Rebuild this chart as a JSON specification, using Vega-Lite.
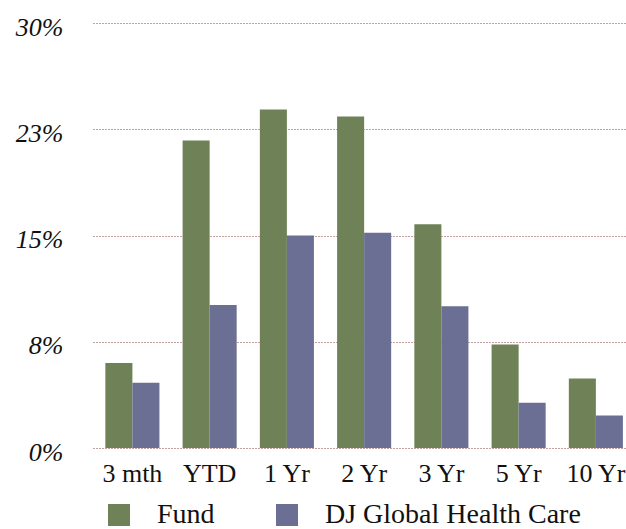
{
  "$schema": "https://vega.github.io/schema/vega-lite/v6.json",
  "width": 533,
  "height": 425,
  "autosize": "none",
  "padding": {"left": 93, "top": 23, "right": 0, "bottom": 81},
  "background": "white",
  "data": {
    "values": [
      {"period": "3 mth", "series": "Fund", "value": 6.0},
      {"period": "3 mth", "series": "DJ Global Health Care", "value": 4.6},
      {"period": "YTD", "series": "Fund", "value": 21.7},
      {"period": "YTD", "series": "DJ Global Health Care", "value": 10.1},
      {"period": "1 Yr", "series": "Fund", "value": 23.9},
      {"period": "1 Yr", "series": "DJ Global Health Care", "value": 15.0},
      {"period": "2 Yr", "series": "Fund", "value": 23.4},
      {"period": "2 Yr", "series": "DJ Global Health Care", "value": 15.2},
      {"period": "3 Yr", "series": "Fund", "value": 15.8},
      {"period": "3 Yr", "series": "DJ Global Health Care", "value": 10.0},
      {"period": "5 Yr", "series": "Fund", "value": 7.3},
      {"period": "5 Yr", "series": "DJ Global Health Care", "value": 3.2},
      {"period": "10 Yr", "series": "Fund", "value": 4.9},
      {"period": "10 Yr", "series": "DJ Global Health Care", "value": 2.3}
    ]
  },
  "mark": {"type": "bar"},
  "encoding": {
    "x": {
      "field": "period",
      "type": "nominal",
      "sort": ["3 mth", "YTD", "1 Yr", "2 Yr", "3 Yr", "5 Yr", "10 Yr"],
      "scale": {"paddingInner": 0.3, "paddingOuter": 0.1, "align": 0.8},
      "axis": {
        "title": null,
        "labelAngle": 0,
        "domain": false,
        "ticks": false,
        "labelFont": "Liberation Serif",
        "labelFontSize": 26,
        "labelColor": "#111111",
        "labelPadding": 12
      }
    },
    "xOffset": {
      "field": "series",
      "type": "nominal",
      "sort": ["Fund", "DJ Global Health Care"],
      "scale": {"paddingInner": 0, "paddingOuter": 0}
    },
    "y": {
      "field": "value",
      "type": "quantitative",
      "scale": {"domain": [0, 30], "nice": false},
      "axis": {
        "title": null,
        "values": [0, 7.5, 15, 22.5, 30],
        "labelExpr": "round(datum.value) + '%'",
        "domain": false,
        "ticks": false,
        "grid": true,
        "gridDash": [1, 2],
        "gridColor": "#7a3030",
        "gridOpacity": 0.9,
        "gridWidth": 1,
        "labelFont": "Liberation Serif",
        "labelFontStyle": "italic",
        "labelFontSize": 26,
        "labelColor": "#111111",
        "labelPadding": 30,
        "labelOffset": 4
      }
    },
    "color": {
      "field": "series",
      "type": "nominal",
      "sort": ["Fund", "DJ Global Health Care"],
      "scale": {"domain": ["Fund", "DJ Global Health Care"], "range": ["#6e8157", "#6b6f94"]},
      "legend": {
        "title": null,
        "orient": "none",
        "legendX": 12,
        "legendY": 478,
        "direction": "horizontal",
        "symbolType": "square",
        "symbolSize": 484,
        "symbolStrokeWidth": 0,
        "labelFont": "Liberation Serif",
        "labelFontSize": 28,
        "labelColor": "#111111",
        "labelLimit": 400,
        "labelOffset": 24,
        "columnPadding": 58
      }
    }
  },
  "config": {
    "view": {"stroke": null}
  }
}
